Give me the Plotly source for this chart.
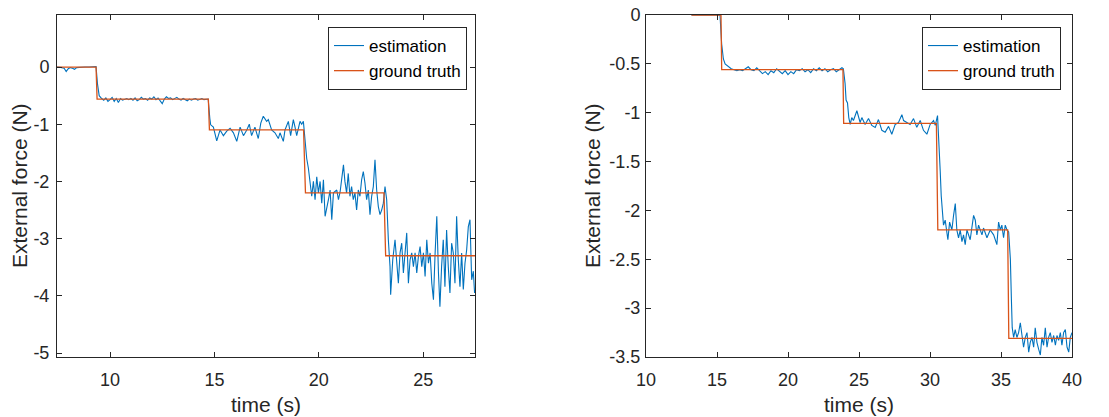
import plotly.graph_objects as go

# ---------------- data: left experiment ----------------
left_est_t = [7.46, 7.6, 7.7, 7.8, 7.9, 8.0, 8.1, 8.2, 8.3, 8.4, 8.6, 8.8, 9.0, 9.2, 9.33, 9.4, 9.48, 9.6, 9.7,
              9.8, 9.9, 10.0, 10.1, 10.2, 10.3, 10.4, 10.5, 10.6, 10.7, 10.8, 10.9, 11.0, 11.1, 11.2, 11.3, 11.4,
              11.5, 11.6, 11.7, 11.8, 11.9, 12.0, 12.1, 12.2, 12.3, 12.4, 12.5, 12.6, 12.7, 12.8, 12.9, 13.0,
              13.1, 13.2, 13.3, 13.4, 13.5, 13.6, 13.7, 13.8, 13.9, 14.0, 14.1, 14.2, 14.3, 14.4, 14.5, 14.6,
              14.7, 14.78,
              14.82, 14.95, 15.11, 15.27, 15.43, 15.59, 15.75, 15.91, 16.07, 16.23, 16.39, 16.55, 16.67, 16.78,
              16.94, 17.1, 17.22, 17.34, 17.5, 17.58, 17.74, 17.9, 18.06, 18.14, 18.3, 18.38, 18.54, 18.65,
              18.78, 18.86, 18.94, 19.1, 19.18, 19.26, 19.34, 19.42, 19.5,
              19.58, 19.66, 19.74, 19.82, 19.9, 19.98, 20.06, 20.14, 20.22, 20.3, 20.46, 20.54, 20.62, 20.7,
              20.86, 20.94, 21.02, 21.1, 21.18, 21.25, 21.33, 21.41, 21.49, 21.57, 21.65, 21.73, 21.81, 21.89,
              21.97, 22.05, 22.13, 22.21, 22.29, 22.37, 22.45, 22.53, 22.61, 22.69, 22.77, 22.85, 22.93, 23.01,
              23.09, 23.17, 23.25, 23.33, 23.41,
              23.44, 23.54, 23.65, 23.73, 23.81, 23.89, 23.97, 24.05, 24.13, 24.21, 24.29, 24.37, 24.45, 24.53,
              24.61, 24.69, 24.77, 24.85, 24.93, 25.01, 25.09, 25.17, 25.25, 25.33, 25.41, 25.49, 25.57, 25.65,
              25.73, 25.8, 25.88, 25.96, 26.04, 26.12, 26.2, 26.28, 26.36, 26.44, 26.52, 26.6, 26.68, 26.76,
              26.84, 26.92, 27.0, 27.08, 27.16, 27.24, 27.32, 27.4, 27.46]
left_est_v = [0.0, 0.0, -0.01, -0.02, -0.08, -0.03, -0.01, -0.02, -0.04, -0.01, 0.0, 0.0, 0.0, 0.0, 0.01, -0.3, -0.5,
              -0.55, -0.58,
              -0.54, -0.6, -0.57, -0.53, -0.6, -0.55, -0.62, -0.55, -0.58, -0.56, -0.55, -0.57, -0.55, -0.58,
              -0.54, -0.59, -0.57, -0.53, -0.56, -0.55, -0.58, -0.54, -0.56, -0.52, -0.57, -0.54, -0.6, -0.64,
              -0.56, -0.52, -0.55, -0.54, -0.57, -0.55, -0.53, -0.56, -0.58, -0.55, -0.57, -0.59, -0.56, -0.58,
              -0.56, -0.55, -0.58, -0.56, -0.55, -0.57, -0.56, -0.56, -0.9,
              -1.01, -1.05, -1.29, -1.1, -1.2, -1.12, -1.07, -1.15, -1.3, -1.05, -1.2, -1.1, -1.0, -1.2, -1.05,
              -1.25, -0.98, -0.86, -0.95, -0.92, -1.1, -1.15, -1.25, -1.15, -1.3, -1.1, -0.95, -1.2, -0.92,
              -1.05, -1.2, -0.95, -1.0, -0.95, -1.3, -1.6, -1.77,
              -2.03, -2.26, -2.0, -2.32, -1.92, -2.2, -2.0, -2.38, -1.97, -2.61, -2.32, -2.15, -2.67, -2.2,
              -2.15, -2.32, -2.18, -1.97, -1.71, -2.0, -2.2, -1.86, -2.26, -2.09, -2.32, -2.2, -2.5, -2.15,
              -2.26, -1.97, -1.83, -2.03, -2.32, -2.15, -2.58, -2.26, -2.09, -1.62, -2.15, -2.44, -2.58, -2.5,
              -2.38, -2.09, -2.32, -3.02, -3.49,
              -3.98, -3.37, -3.02, -3.37, -3.78, -3.25, -3.08, -3.6, -3.25, -2.9, -3.78, -3.37, -3.25, -3.49,
              -3.25, -3.6, -3.31, -3.14, -3.49, -3.25, -3.66, -3.02, -3.43, -3.25, -3.78, -4.07, -3.25, -2.61,
              -3.6, -4.19, -3.49, -3.02, -3.84, -2.85, -3.49, -3.95, -3.08, -3.25, -3.78, -2.61, -3.37, -3.84,
              -3.25, -3.89, -3.43, -3.2, -2.79, -2.67, -3.72, -3.57, -3.95]
left_gt_t = [7.46, 9.33, 9.38, 14.71, 14.76, 19.27, 19.36, 23.12, 23.2, 27.48]
left_gt_v = [0.0, 0.0, -0.56, -0.56, -1.1, -1.1, -2.2, -2.2, -3.3, -3.3]

# ---------------- data: right experiment ----------------
right_est_t = [13.2, 14.0, 14.8, 15.21, 15.33, 15.45, 15.57, 15.8,
               16.0, 16.2, 16.4, 16.6, 16.8, 17.0, 17.2, 17.4, 17.6, 17.8, 18.0, 18.2, 18.4, 18.6, 18.8, 19.0,
               19.2, 19.4, 19.6, 19.8, 20.0, 20.2, 20.4, 20.6, 20.8, 21.0, 21.2, 21.4, 21.6, 21.8, 22.0, 22.2,
               22.4, 22.6, 22.8, 23.0, 23.2, 23.4, 23.6, 23.8, 23.9,
               24.02, 24.09, 24.19, 24.28, 24.38, 24.49,
               24.61, 24.85, 25.08, 25.2, 25.43, 25.67, 25.9, 26.14, 26.37, 26.61, 26.84, 27.08, 27.31, 27.55,
               27.78, 28.02, 28.14, 28.37, 28.6, 28.84, 29.07, 29.31, 29.54, 29.78, 30.01, 30.25, 30.37, 30.53,
               30.6, 30.72, 30.79, 30.88,
               30.95, 31.07, 31.19, 31.26, 31.38, 31.54, 31.66, 31.78, 31.89, 32.01, 32.13, 32.25, 32.36, 32.48,
               32.6, 32.83, 33.07, 33.19, 33.3, 33.42, 33.66, 33.77, 34.01, 34.24, 34.48, 34.71, 34.83, 34.95,
               35.06, 35.18, 35.3, 35.42, 35.54, 35.66, 35.73, 35.79,
               35.89, 36.0, 36.12, 36.24, 36.36, 36.47, 36.59, 36.71, 36.83, 36.95, 37.06, 37.18, 37.3, 37.41,
               37.53, 37.65, 37.77, 37.88, 38.0, 38.12, 38.24, 38.35, 38.47, 38.59, 38.71, 38.83, 38.94, 39.06,
               39.18, 39.29, 39.41, 39.53, 39.65, 39.77, 39.88, 40.0]
right_est_v = [0.0, 0.0, 0.0, 0.0, -0.3, -0.45, -0.5, -0.53,
               -0.55, -0.56, -0.57, -0.56, -0.57, -0.55, -0.53, -0.56, -0.57, -0.54, -0.57, -0.6, -0.58, -0.61,
               -0.57, -0.59, -0.55, -0.58, -0.6, -0.57, -0.61, -0.58, -0.6, -0.56, -0.57, -0.55, -0.58, -0.56,
               -0.59, -0.55, -0.57, -0.54, -0.57, -0.55, -0.58, -0.56, -0.55, -0.58, -0.56, -0.54, -0.55,
               -0.7, -0.87, -0.9, -1.05, -1.12, -1.05,
               -1.08, -0.98, -1.1, -1.05, -1.12, -1.06, -1.13, -1.15, -1.07, -1.18, -1.2, -1.14, -1.22, -1.12,
               -1.1, -1.02, -1.08, -1.1, -1.12, -1.06, -1.15, -1.08, -1.18, -1.22, -1.12, -1.08, -1.13, -1.03,
               -1.2, -1.6, -1.85, -2.05,
               -2.15, -2.1, -2.2, -2.3, -2.12, -2.2, -2.05, -1.93, -2.2, -2.28, -2.2, -2.32, -2.25, -2.35, -2.2,
               -2.3, -2.05, -2.1, -2.25, -2.15, -2.25, -2.18, -2.28, -2.2, -2.25, -2.35, -2.12, -2.2, -2.15,
               -2.28, -2.15, -2.2, -2.22, -2.5, -2.9, -3.2,
               -3.3, -3.22, -3.3, -3.25, -3.15, -3.3, -3.4, -3.3, -3.25, -3.45, -3.35, -3.3, -3.4, -3.2, -3.35,
               -3.42, -3.48, -3.3, -3.38, -3.2, -3.4, -3.3, -3.25, -3.35, -3.28, -3.38, -3.28, -3.33, -3.25,
               -3.38, -3.25, -3.22, -3.4, -3.45, -3.3, -3.25]
right_gt_t = [13.2, 15.28, 15.33, 23.87, 23.92, 30.45, 30.55, 35.47, 35.55, 40.0]
right_gt_v = [0.0, 0.0, -0.56, -0.56, -1.11, -1.11, -2.2, -2.2, -3.31, -3.31]

left_xticks = [10, 15, 20, 25]
left_yticks = [-5, -4, -3, -2, -1, 0]
left_ytext = ["-5", "-4", "-3", "-2", "-1", "0"]
right_xticks = [10, 15, 20, 25, 30, 35, 40]
right_yticks = [-3.5, -3, -2.5, -2, -1.5, -1, -0.5, 0]
right_ytext = ["-3.5", "-3", "-2.5", "-2", "-1.5", "-1", "-0.5", "0"]

series_names = ["estimation", "ground truth"]
BLUE = "#0072BD"
ORANGE = "#D95319"
AX = "#262626"
FONT = "Liberation Sans, Arial, sans-serif"

W, H = 1109, 417
fig = go.Figure()

fig.add_trace(go.Scatter(x=left_est_t, y=left_est_v, mode="lines", name=series_names[0],
                         line=dict(color=BLUE, width=1.1), xaxis="x", yaxis="y", legend="legend"))
fig.add_trace(go.Scatter(x=left_gt_t, y=left_gt_v, mode="lines", name=series_names[1],
                         line=dict(color=ORANGE, width=1.3), xaxis="x", yaxis="y", legend="legend"))
fig.add_trace(go.Scatter(x=right_est_t, y=right_est_v, mode="lines", name=series_names[0],
                         line=dict(color=BLUE, width=1.1), xaxis="x2", yaxis="y2", legend="legend2"))
fig.add_trace(go.Scatter(x=right_gt_t, y=right_gt_v, mode="lines", name=series_names[1],
                         line=dict(color=ORANGE, width=1.3), xaxis="x2", yaxis="y2", legend="legend2"))

def px_x(p):
    return p / W

def px_y(p):
    return (H - p) / H

axis_common = dict(showline=True, linecolor=AX, linewidth=1, mirror="ticks", ticks="inside",
                   ticklen=5, tickcolor=AX, tickwidth=1, showgrid=False, zeroline=False,
                   tickfont=dict(family=FONT, size=18, color=AX), automargin=False)

fig.update_layout(
    width=W, height=H,
    margin=dict(l=0, r=0, t=0, b=0),
    paper_bgcolor="white", plot_bgcolor="white",
    xaxis=dict(domain=[px_x(57), px_x(475)], range=[7.46, 27.48], tickvals=left_xticks,
               anchor="y", ticklabelstandoff=6, **axis_common),
    yaxis=dict(domain=[px_y(357), px_y(15)], range=[-5.07, 0.91], tickvals=left_yticks,
               ticktext=left_ytext, anchor="x", ticklabelstandoff=3, **axis_common),
    xaxis2=dict(domain=[px_x(646), px_x(1072)], range=[10, 40], tickvals=right_xticks,
                anchor="y2", ticklabelstandoff=6, **axis_common),
    yaxis2=dict(domain=[px_y(357), px_y(15)], range=[-3.5, 0], tickvals=right_yticks,
                ticktext=right_ytext, anchor="x2", ticklabelstandoff=1, **axis_common),
    legend=dict(x=px_x(328), y=px_y(27), xanchor="left", yanchor="top",
                bgcolor="white", bordercolor=AX, borderwidth=1,
                font=dict(family=FONT, size=17, color="#000000"), tracegroupgap=0),
    legend2=dict(x=px_x(922), y=px_y(27), xanchor="left", yanchor="top",
                 bgcolor="white", bordercolor=AX, borderwidth=1,
                 font=dict(family=FONT, size=17, color="#000000"), tracegroupgap=0),
    showlegend=True,
)

title_font = dict(family=FONT, size=21, color=AX)
fig.add_annotation(text="time (s)", x=(px_x(57) + px_x(475)) / 2, y=px_y(404), xref="paper", yref="paper",
                   showarrow=False, font=title_font, xanchor="center", yanchor="middle")
fig.add_annotation(text="time (s)", x=(px_x(646) + px_x(1072)) / 2, y=px_y(404), xref="paper", yref="paper",
                   showarrow=False, font=title_font, xanchor="center", yanchor="middle")
fig.add_annotation(text="External force (N)", x=px_x(19), y=px_y(186), xref="paper", yref="paper",
                   showarrow=False, font=title_font, textangle=-90, xanchor="center", yanchor="middle")
fig.add_annotation(text="External force (N)", x=px_x(592), y=px_y(186), xref="paper", yref="paper",
                   showarrow=False, font=title_font, textangle=-90, xanchor="center", yanchor="middle")

fig.write_html("out.html")
